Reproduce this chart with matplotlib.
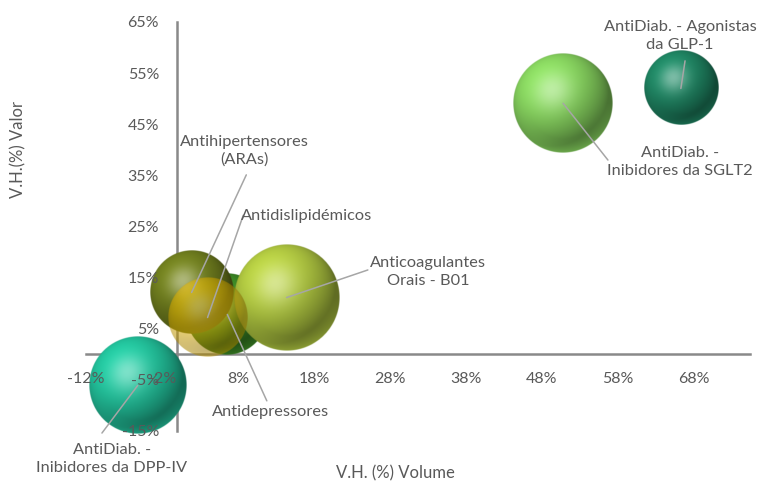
import numpy as np
import matplotlib
matplotlib.use("Agg")
import matplotlib.pyplot as plt
from matplotlib.colors import to_rgb

plt.rcParams['font.family'] = ['Lato', 'DejaVu Sans']

# dados do gráfico de bolhas (variação homóloga, %)
categorias = ["AntiDiab. - Inibidores da DPP-IV", "Antidepressores",
              "Antihipertensores (ARAs)", "Anticoagulantes Orais - B01",
              "Antidislipidémicos", "AntiDiab. - Inibidores da SGLT2",
              "AntiDiab. - Agonistas da GLP-1"]
rotulos = ["AntiDiab. -\nInibidores da DPP-IV", "Antidepressores",
           "Antihipertensores\n(ARAs)", "Anticoagulantes\nOrais - B01",
           "Antidislipidémicos", "AntiDiab. -\nInibidores da SGLT2",
           "AntiDiab. - Agonistas\nda GLP-1"]
vh_volume = [-5.2, 6.6, 1.9, 14.4, 4.0, 50.8, 66.3]
vh_valor = [-6.1, 7.8, 12.1, 11.1, 7.2, 49.1, 52.0]
tamanho = [2.40, 1.68, 1.76, 2.81, 1.60, 2.50, 1.37]
cores = ["#22c09a", "#3d8c26", "#6f7d1e", "#afc640", "#eab800", "#86d25e", "#1f8462"]
transparencia = [1, 1, 1, 1, 0.55, 1, 1]

# posição dos rótulos e início das linhas de chamada (coordenadas dos eixos)
pos_rotulo = [(-8.6, -20.5), (12.35, -11.3), (8.9, 39.8), (33.0, 16.1),
              (17.0, 27.1), (66.2, 37.6), (66.2, 62.3)]
pos_linha = [(-9.9, -15.4), (11.8, -9.1), (9.1, 35.1), (25.1, 16.5),
             (8.7, 27.2), (56.7, 38.0), (66.85, 57.4)]

x_ticks = [-12, -2, 8, 18, 28, 38, 48, 58, 68]
y_ticks = [-15, -5, 5, 15, 25, 35, 45, 55, 65]

CINZA = "#595959"
R_MAX = 53  # raio em pixels da maior bolha


def esfera(cor, alpha=1.0, n=241):
    u = np.linspace(-1, 1, n)
    xx, yy = np.meshgrid(u, -u)
    rr = np.sqrt(xx ** 2 + yy ** 2)
    zz = np.sqrt(np.clip(1 - rr ** 2, 0, None))
    luz = np.array([-0.4, 0.5, 0.77])
    luz /= np.linalg.norm(luz)
    dif = np.clip(xx * luz[0] + yy * luz[1] + zz * luz[2], 0, 1)
    base = np.array(to_rgb(cor))
    rgb = base * (0.55 + 0.55 * dif)[..., None]
    # brilho
    h = luz + np.array([0, 0, 1.0])
    h /= np.linalg.norm(h)
    spec = np.clip(xx * h[0] + yy * h[1] + zz * h[2], 0, 1) ** 14
    rgb = rgb + (1 - rgb) * (0.4 * spec)[..., None]
    # reflexo suave junto ao contorno inferior
    refl = np.clip(-yy, 0, 1) * np.clip((rr - 0.72) / 0.28, 0, 1)
    rgb = rgb + (base - rgb) * refl[..., None] * 0.55
    a = np.clip((1 - rr) * n / 2, 0, 1) * alpha
    return np.dstack([np.clip(rgb, 0, 1), a])


fig = plt.figure(figsize=(7.6, 4.84), dpi=100)
ax = fig.add_axes([86 / 760, 53 / 484, 664 / 760, 409 / 484])
ax.set_xlim(-12, 75.4)
ax.set_ylim(-15, 65)

for s in ['top', 'right']:
    ax.spines[s].set_visible(False)
for s in ['left', 'bottom']:
    ax.spines[s].set_position(('data', 0))
    ax.spines[s].set_color('#898989')
    ax.spines[s].set_linewidth(1.8)

ax.set_xticks(x_ticks)
ax.set_yticks(y_ticks)
ax.set_xticklabels([f"{v}%" for v in x_ticks])
ax.set_yticklabels([f"{v}%" for v in y_ticks])
ax.tick_params(length=0, labelsize=11.5, labelcolor=CINZA, pad=13)
ax.xaxis.set_zorder(5)
ax.yaxis.set_zorder(5)

# escala pixel -> unidades de dados
bb = ax.get_window_extent()
px_x = bb.width / (75.4 + 12)
px_y = bb.height / 80

t_max = max(tamanho)
for i in range(len(categorias)):
    r = R_MAX * np.sqrt(tamanho[i] / t_max)
    rx, ry = r / px_x, r / px_y
    x, y = vh_volume[i], vh_valor[i]
    ax.imshow(esfera(cores[i], transparencia[i]),
              extent=(x - rx, x + rx, y - ry, y + ry),
              aspect='auto', interpolation='bilinear', zorder=3, clip_on=False)

for i in range(len(categorias)):
    ax.annotate("", xy=(vh_volume[i], vh_valor[i]), xytext=pos_linha[i],
                arrowprops=dict(arrowstyle='-', color='#a6a6a6', lw=1.1,
                                shrinkA=0, shrinkB=0),
                zorder=4, annotation_clip=False)
    ax.text(pos_rotulo[i][0], pos_rotulo[i][1], rotulos[i], ha='center', va='center',
            fontsize=11.8, color=CINZA, linespacing=1.35, zorder=6, clip_on=False)

ax.set_xlim(-12, 75.4)
ax.set_ylim(-15, 65)

fig.text(18 / 760, 1 - 150 / 484, "V.H.(%) Valor", rotation=90, ha='center', va='center',
         fontsize=12, color=CINZA)
fig.text(395 / 760, 1 - 473 / 484, "V.H. (%) Volume", ha='center', va='center',
         fontsize=12, color=CINZA)

fig.savefig("out.png", dpi=100)
